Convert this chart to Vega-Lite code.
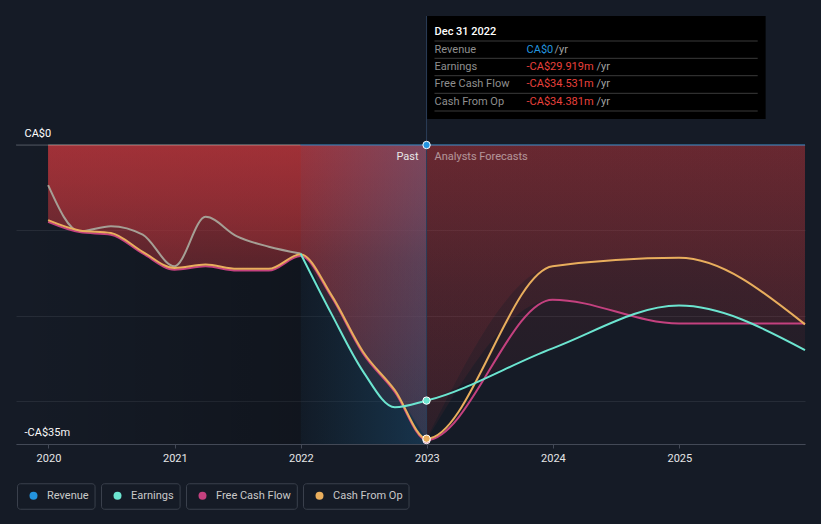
{
  "$schema": "https://vega.github.io/schema/vega-lite/v6.json",
  "width": 789,
  "height": 299,
  "autosize": {"type": "none"},
  "padding": {"left": 16, "top": 145, "right": 16, "bottom": 80},
  "background": "#151b26",
  "config": {"view": {"stroke": null}, "font": "Roboto", "text": {"font": "Roboto"}},
  "data": {"values": [
    {"d":"2019-12-31","s":"Revenue","v":0},{"d":"2019-12-31","s":"Earnings","v":-4.7},{"d":"2019-12-31","s":"Free Cash Flow","v":-9.0},{"d":"2019-12-31","s":"Cash From Op","v":-8.8},
    {"d":"2020-03-31","s":"Revenue","v":0},{"d":"2020-03-31","s":"Earnings","v":-10.1},{"d":"2020-03-31","s":"Free Cash Flow","v":-10.2},{"d":"2020-03-31","s":"Cash From Op","v":-10.0},
    {"d":"2020-06-30","s":"Revenue","v":0},{"d":"2020-06-30","s":"Earnings","v":-9.5},{"d":"2020-06-30","s":"Free Cash Flow","v":-10.5},{"d":"2020-06-30","s":"Cash From Op","v":-10.3},
    {"d":"2020-09-30","s":"Revenue","v":0},{"d":"2020-09-30","s":"Earnings","v":-10.5},{"d":"2020-09-30","s":"Free Cash Flow","v":-12.7},{"d":"2020-09-30","s":"Cash From Op","v":-12.5},
    {"d":"2020-12-31","s":"Revenue","v":0},{"d":"2020-12-31","s":"Earnings","v":-14.2},{"d":"2020-12-31","s":"Free Cash Flow","v":-14.6},{"d":"2020-12-31","s":"Cash From Op","v":-14.4},
    {"d":"2021-03-31","s":"Revenue","v":0},{"d":"2021-03-31","s":"Earnings","v":-8.4},{"d":"2021-03-31","s":"Free Cash Flow","v":-14.2},{"d":"2021-03-31","s":"Cash From Op","v":-14.0},
    {"d":"2021-06-30","s":"Revenue","v":0},{"d":"2021-06-30","s":"Earnings","v":-10.7},{"d":"2021-06-30","s":"Free Cash Flow","v":-14.7},{"d":"2021-06-30","s":"Cash From Op","v":-14.5},
    {"d":"2021-09-30","s":"Revenue","v":0},{"d":"2021-09-30","s":"Earnings","v":-11.9},{"d":"2021-09-30","s":"Free Cash Flow","v":-14.7},{"d":"2021-09-30","s":"Cash From Op","v":-14.5},
    {"d":"2021-12-31","s":"Revenue","v":0},{"d":"2021-12-31","s":"Earnings","v":-12.7},{"d":"2021-12-31","s":"Free Cash Flow","v":-13.0},{"d":"2021-12-31","s":"Cash From Op","v":-12.8},
    {"d":"2022-03-31","s":"Revenue","v":0},{"d":"2022-03-31","s":"Earnings","v":-19.8},{"d":"2022-03-31","s":"Free Cash Flow","v":-17.8},{"d":"2022-03-31","s":"Cash From Op","v":-17.6},
    {"d":"2022-06-30","s":"Revenue","v":0},{"d":"2022-06-30","s":"Earnings","v":-26.5},{"d":"2022-06-30","s":"Free Cash Flow","v":-24.4},{"d":"2022-06-30","s":"Cash From Op","v":-24.2},
    {"d":"2022-09-30","s":"Revenue","v":0},{"d":"2022-09-30","s":"Earnings","v":-30.7},{"d":"2022-09-30","s":"Free Cash Flow","v":-28.9},{"d":"2022-09-30","s":"Cash From Op","v":-28.7},
    {"d":"2022-12-31","s":"Revenue","v":0},{"d":"2022-12-31","s":"Earnings","v":-29.919},{"d":"2022-12-31","s":"Free Cash Flow","v":-34.531},{"d":"2022-12-31","s":"Cash From Op","v":-34.381},
    {"d":"2023-12-31","s":"Revenue","v":0},{"d":"2023-12-31","s":"Earnings","v":-23.8},{"d":"2023-12-31","s":"Free Cash Flow","v":-18.1},{"d":"2023-12-31","s":"Cash From Op","v":-14.2},
    {"d":"2024-12-31","s":"Revenue","v":0},{"d":"2024-12-31","s":"Earnings","v":-18.8},{"d":"2024-12-31","s":"Free Cash Flow","v":-20.9},{"d":"2024-12-31","s":"Cash From Op","v":-13.2},
    {"d":"2025-12-31","s":"Revenue","v":0},{"d":"2025-12-31","s":"Earnings","v":-24.0},{"d":"2025-12-31","s":"Free Cash Flow","v":-20.9},{"d":"2025-12-31","s":"Cash From Op","v":-21.0}
  ]},
  "encoding": {
    "x": {
      "field": "d", "type": "temporal", "title": null,
      "scale": {"type": "utc", "domain": [{"year": 2019, "month": 9, "date": 29, "utc": true}, {"year": 2025, "month": 12, "date": 31, "utc": true}]},
      "axis": {
        "values": [{"year":2020,"month":1,"date":1,"utc":true},{"year":2021,"month":1,"date":1,"utc":true},{"year":2022,"month":1,"date":1,"utc":true},{"year":2023,"month":1,"date":1,"utc":true},{"year":2024,"month":1,"date":1,"utc":true},{"year":2025,"month":1,"date":1,"utc":true}],
        "format": "%Y", "grid": false, "labelColor": "#e6e6e6", "labelFontSize": 11, "labelFont": "Roboto",
        "tickColor": "#434956", "tickSize": 4, "domainColor": "#434956", "labelPadding": 4, "labelFlush": false
      }
    },
    "y": {
      "field": "v", "type": "quantitative", "title": null,
      "scale": {"domain": [-35, 0], "nice": false},
      "axis": {
        "values": [-35, -30, -20, -10, 0],
        "labelExpr": "datum.value == 0 ? 'CA$0' : datum.value == -35 ? '-CA$35m' : ''",
        "domain": false, "ticks": false, "tickSize": 0, "labelAlign": "left", "labelPadding": -8,
        "labelBaseline": "alphabetic", "labelOffset": -8.5, "labelColor": "#ffffff", "labelFontSize": 11, "labelFont": "Roboto",
        "gridColor": "#262c37", "gridWidth": 1
      }
    }
  },
  "layer": [
    {
      "transform": [{"filter": "datum.s == 'Revenue' && time(datum.d) == utc(2022, 11, 31)"}],
      "mark": {"type": "rect", "fill": {"gradient": "linear", "x1": 0, "y1": 0, "x2": 1, "y2": 0, "stops": [{"offset": 0, "color": "rgba(0,0,0,0)"}, {"offset": 0.69, "color": "rgba(0,0,0,0.22)"}, {"offset": 1, "color": "rgba(0,0,0,0.25)"}]}},
      "encoding": {
        "x": {"datum": 1569715200000, "type": "temporal"},
        "x2": {"field": "d"},
        "y": {"datum": 0}, "y2": {"datum": -35}
      }
    },
    {
      "transform": [{"filter": "datum.s == 'Revenue' && time(datum.d) == utc(2022, 11, 31)"}],
      "mark": {"type": "rule", "color": "#4b505b", "strokeWidth": 1},
      "encoding": {"x": {"value": 0}, "x2": {"value": 789}, "y": {"datum": 0}}
    },
    {
      "transform": [{"filter": "datum.s != 'Revenue' && time(datum.d) <= utc(2022, 11, 31)"}],
      "mark": {"type": "area", "interpolate": "monotone", "fill": {"gradient": "linear", "x1": 0, "y1": 0, "x2": 0, "y2": 1, "stops": [{"offset": 0, "color": "rgba(180,52,58,0.5)"}, {"offset": 0.4, "color": "rgba(180,52,58,0.26)"}, {"offset": 1, "color": "rgba(180,52,58,0.12)"}]}},
      "encoding": {"y2": {"datum": 0}, "detail": {"field": "s"}}
    },
    {
      "transform": [{"filter": "datum.s != 'Revenue' && time(datum.d) >= utc(2022, 11, 31)"}],
      "mark": {"type": "area", "interpolate": "monotone", "fill": {"gradient": "linear", "x1": 0, "y1": 0, "x2": 0, "y2": 1, "stops": [{"offset": 0, "color": "rgba(180,52,58,0.22)"}, {"offset": 0.5, "color": "rgba(180,52,58,0.13)"}, {"offset": 1, "color": "rgba(180,52,58,0.08)"}]}},
      "encoding": {"y2": {"datum": 0}, "detail": {"field": "s"}}
    },
    {
      "transform": [{"filter": "datum.s == 'Revenue' && time(datum.d) == utc(2022, 11, 31)"}],
      "mark": {"type": "rect", "fill": {"gradient": "linear", "x1": 0, "y1": 0, "x2": 1, "y2": 0, "stops": [{"offset": 0, "color": "rgba(40,125,185,0.06)"}, {"offset": 1, "color": "rgba(40,125,185,0.3)"}]}},
      "encoding": {
        "x": {"datum": 1640995200000, "type": "temporal"},
        "x2": {"field": "d"},
        "y": {"datum": 0}, "y2": {"datum": -35}
      }
    },
    {
      "transform": [{"filter": "datum.s == 'Revenue' && time(datum.d) == utc(2022, 11, 31)"}],
      "mark": {"type": "rect", "fill": "#000000"},
      "encoding": {
        "x2": {"datum": 1757289600000},
        "y": {"value": -129}, "y2": {"value": -26}
      }
    },
    {
      "transform": [{"filter": "datum.s == 'Revenue' && time(datum.d) == utc(2022, 11, 31)"}],
      "mark": {"type": "rule", "color": "#2b3d58", "strokeWidth": 1},
      "encoding": {"y": {"value": -129}, "y2": {"value": 299}}
    },
    {
      "transform": [{"filter": "datum.s == 'Revenue' && time(datum.d) <= utc(2021, 11, 31)"}],
      "mark": {"type": "line", "interpolate": "monotone", "color": "#d8d2c8", "opacity": 0.3, "strokeWidth": 1.5},
      "encoding": {}
    },
    {
      "transform": [{"filter": "datum.s == 'Revenue' && time(datum.d) >= utc(2021, 11, 31)"}],
      "mark": {"type": "line", "interpolate": "monotone", "color": "#2394df", "opacity": 0.5, "strokeWidth": 1.5},
      "encoding": {}
    },
    {
      "transform": [{"filter": "datum.s == 'Earnings' && time(datum.d) <= utc(2021, 11, 31)"}],
      "mark": {"type": "line", "interpolate": "monotone", "color": "#a59f95", "strokeWidth": 2},
      "encoding": {}
    },
    {
      "transform": [{"filter": "datum.s != 'Revenue' && !(datum.s == 'Earnings' && time(datum.d) < utc(2021, 11, 31))"}],
      "mark": {"type": "line", "interpolate": "monotone", "strokeWidth": 2},
      "encoding": {
        "color": {
          "field": "s", "type": "nominal",
          "scale": {"domain": ["Revenue", "Earnings", "Free Cash Flow", "Cash From Op"], "range": ["#2394df", "#6ce5d0", "#c4417f", "#e9ae5d"]},
          "legend": {
            "title": null, "orient": "none", "legendX": 1, "legendY": 338, "direction": "horizontal", "columns": 4,
            "symbolType": "circle", "symbolSize": 64, "symbolStrokeWidth": 0, "symbolOffset": 11, "labelOffset": 8, "clipHeight": 25,
            "labelFontSize": 11, "labelFont": "Roboto", "labelColor": "#c9c9c9", "columnPadding": 5, "padding": 0, "offset": 0,
            "labelExpr": "datum.label + '\u00a0\u00a0\u200b'",
            "encoding": {
              "symbols": {"fill": {"value": {"expr": "scale('color', datum.value)"}}, "opacity": {"value": 1}},
              "entries": {"stroke": {"value": "#3a404c"}, "strokeWidth": {"value": 1}, "cornerRadius": {"value": 3}}
            }
          }
        }
      }
    },
    {
      "transform": [{"filter": "time(datum.d) == utc(2022, 11, 31)"}],
      "mark": {"type": "point", "filled": true, "size": 55, "stroke": "#ffffff", "strokeWidth": 1, "opacity": 1},
      "encoding": {"color": {"field": "s", "type": "nominal"}}
    },
    {
      "transform": [{"filter": "datum.s == 'Revenue' && time(datum.d) == utc(2022, 11, 31)"}],
      "mark": {"type": "text", "text": "Past", "align": "right", "baseline": "alphabetic", "dx": -8, "fontSize": 11, "color": "#e8e8e8"},
      "encoding": {"y": {"value": 14.5}}
    },
    {
      "transform": [{"filter": "datum.s == 'Revenue' && time(datum.d) == utc(2022, 11, 31)"}],
      "mark": {"type": "text", "text": "Analysts Forecasts", "align": "left", "baseline": "alphabetic", "dx": 8, "fontSize": 11, "color": "#ffffff", "opacity": 0.5},
      "encoding": {"y": {"value": 14.5}}
    },
    {
      "transform": [{"filter": "datum.s == 'Revenue' && time(datum.d) == utc(2022, 11, 31)"}],
      "mark": {"type": "text", "text": "Dec 31 2022", "align": "left", "baseline": "alphabetic", "dx": 8, "fontSize": 11, "fontWeight": 500, "color": "#ffffff"},
      "encoding": {"y": {"value": -109.8}}
    },
    {
      "transform": [{"filter": "datum.s == 'Revenue' && time(datum.d) == utc(2022, 11, 31)"}],
      "mark": {"type": "text", "text": ["Revenue", "Earnings", "Free Cash Flow", "Cash From Op"], "lineHeight": 17.25, "align": "left", "baseline": "alphabetic", "dx": 8, "fontSize": 11, "color": "#8f8f8f"},
      "encoding": {"y": {"value": -92.2}}
    },
    {
      "transform": [{"filter": "datum.s == 'Revenue' && time(datum.d) == utc(2022, 11, 31)"}],
      "mark": {"type": "text", "text": "CA$0", "align": "left", "baseline": "alphabetic", "dx": 100, "fontSize": 11, "color": "#2394df"},
      "encoding": {"y": {"value": -92.2}}
    },
    {
      "transform": [{"filter": "datum.s == 'Revenue' && time(datum.d) == utc(2022, 11, 31)"}],
      "mark": {"type": "text", "text": "/yr", "align": "left", "baseline": "alphabetic", "dx": 128, "fontSize": 11, "color": "#a0a0a0"},
      "encoding": {"y": {"value": -92.2}}
    },
    {
      "transform": [{"filter": "datum.s == 'Revenue' && time(datum.d) == utc(2022, 11, 31)"}],
      "mark": {"type": "text", "text": ["-CA$29.919m", "-CA$34.531m", "-CA$34.381m"], "lineHeight": 17.25, "align": "left", "baseline": "alphabetic", "dx": 100, "fontSize": 11, "color": "#e8403c"},
      "encoding": {"y": {"value": -74.95}}
    },
    {
      "transform": [{"filter": "datum.s == 'Revenue' && time(datum.d) == utc(2022, 11, 31)"}],
      "mark": {"type": "text", "text": ["/yr", "/yr", "/yr"], "lineHeight": 17.25, "align": "left", "baseline": "alphabetic", "dx": 170, "fontSize": 11, "color": "#a0a0a0"},
      "encoding": {"y": {"value": -74.95}}
    },
    {
      "transform": [{"filter": "datum.s == 'Revenue' && time(datum.d) == utc(2022, 11, 31)"}],
      "mark": {"type": "rule", "color": "#3b3b3b", "strokeWidth": 1},
      "encoding": {"x": {"datum": 1674432000000, "type": "temporal"}, "x2": {"datum": 1755302400000}, "y": {"value": -104}}
    },
    {
      "transform": [{"filter": "datum.s == 'Revenue' && time(datum.d) == utc(2022, 11, 31)"}],
      "mark": {"type": "rule", "color": "#3b3b3b", "strokeWidth": 1},
      "encoding": {"x": {"datum": 1674432000000, "type": "temporal"}, "x2": {"datum": 1755302400000}, "y": {"value": -86.7}}
    },
    {
      "transform": [{"filter": "datum.s == 'Revenue' && time(datum.d) == utc(2022, 11, 31)"}],
      "mark": {"type": "rule", "color": "#3b3b3b", "strokeWidth": 1},
      "encoding": {"x": {"datum": 1674432000000, "type": "temporal"}, "x2": {"datum": 1755302400000}, "y": {"value": -69.3}}
    },
    {
      "transform": [{"filter": "datum.s == 'Revenue' && time(datum.d) == utc(2022, 11, 31)"}],
      "mark": {"type": "rule", "color": "#3b3b3b", "strokeWidth": 1},
      "encoding": {"x": {"datum": 1674432000000, "type": "temporal"}, "x2": {"datum": 1755302400000}, "y": {"value": -51.7}}
    },
    {
      "transform": [{"filter": "datum.s == 'Revenue' && time(datum.d) == utc(2022, 11, 31)"}],
      "mark": {"type": "rule", "color": "#3b3b3b", "strokeWidth": 1},
      "encoding": {"x": {"datum": 1674432000000, "type": "temporal"}, "x2": {"datum": 1755302400000}, "y": {"value": -34}}
    }
  ]
}
